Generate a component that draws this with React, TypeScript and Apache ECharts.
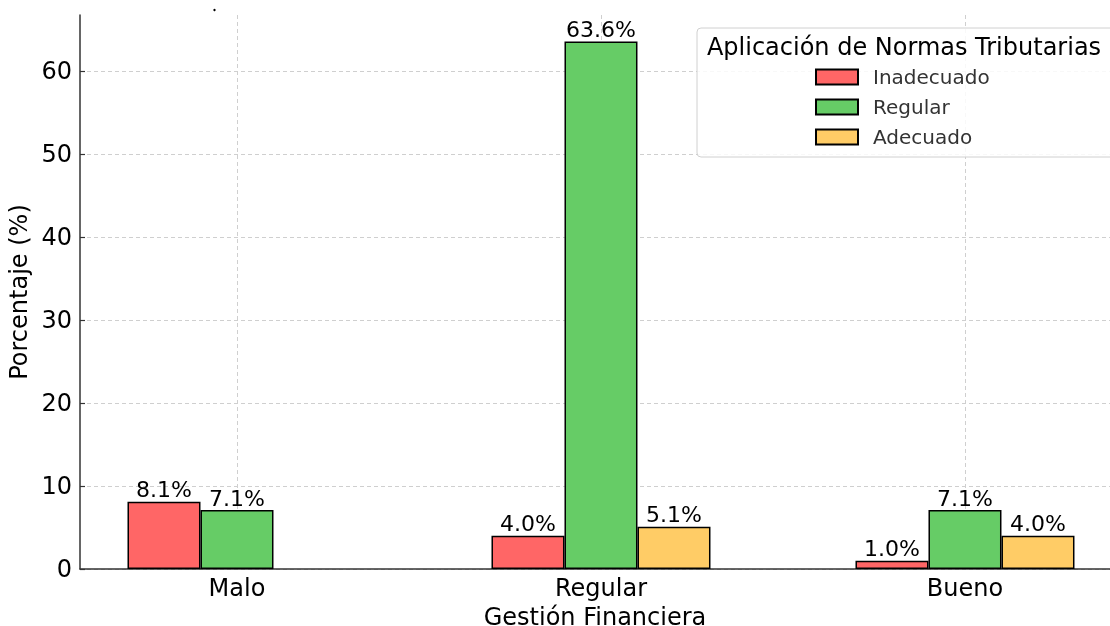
import React, { useEffect, useRef } from "react";
import * as echarts from "echarts";

const categories = ["Malo", "Regular", "Bueno"];
const seriesNames = ["Inadecuado", "Regular", "Adecuado"];
const inadecuado: (number | null)[] = [8.1, 4.0, 1.0];
const regular: (number | null)[] = [7.1, 63.6, 7.1];
const adecuado: (number | null)[] = [null, 5.1, 4.0];
const yTicks = [0, 10, 20, 30, 40, 50, 60];
const colors = ["#FF6666", "#66CC66", "#FFCC66"];

const FONT = "DejaVu Sans";

export default function App() {
  const ref = useRef<HTMLDivElement>(null);
  useEffect(() => {
    if (!ref.current) return;
    const chart = echarts.init(ref.current, undefined, { renderer: "svg" });
    const all = [inadecuado, regular, adecuado];
    const series = all.map((vals, si) => ({
      type: "bar" as const,
      name: seriesNames[si],
      barWidth: 73,
      barGap: "0%",
      data: vals
        .map((v, i) => (v == null ? null : [i, v]))
        .filter((d) => d !== null),
      itemStyle: { color: colors[si], borderColor: "#000", borderWidth: 1.5 },
      label: {
        show: true,
        position: "top" as const,
        distance: 1,
        fontFamily: FONT,
        fontSize: 22,
        color: "#000",
        formatter: (p: any) => `${Number(p.value[1]).toFixed(1)}%`,
      },
      z: 2,
    }));
    chart.setOption({
      animation: false,
      textStyle: { fontFamily: FONT },
      grid: {
        left: 80,
        right: 0,
        top: 15,
        bottom: 57,
        containLabel: false,
        outerBoundsMode: "none",
      },
      xAxis: {
        type: "value",
        min: -0.4313,
        max: 2.3984,
        name: "Gestión Financiera",
        nameLocation: "middle",
        nameGap: 31,
        nameTextStyle: { fontFamily: FONT, fontSize: 24, lineHeight: 24, color: "#000" },
        axisLine: { show: true, onZero: false, lineStyle: { color: "#333", width: 1.5 } },
        axisTick: {
          show: true,
          inside: true,
          length: 5,
          customValues: [0, 1, 2],
          lineStyle: { color: "#333", width: 1.2 },
        },
        axisLabel: {
          customValues: [0, 1, 2],
          margin: 7,
          fontFamily: FONT,
          fontSize: 24,
          color: "#000",
          formatter: (v: number) => categories[Math.round(v)] ?? "",
        },
        splitLine: { show: true, lineStyle: { color: "#cfcfcf", type: [4, 3], width: 1 } },
      },
      yAxis: {
        type: "value",
        min: 0,
        max: 66.78,
        name: "Porcentaje (%)",
        nameLocation: "middle",
        nameGap: 44,
        nameTextStyle: { fontFamily: FONT, fontSize: 24, color: "#000" },
        axisLine: { show: true, onZero: false, lineStyle: { color: "#333", width: 1.5 } },
        axisTick: {
          show: true,
          inside: true,
          length: 5,
          customValues: yTicks,
          lineStyle: { color: "#333", width: 1.2 },
        },
        axisLabel: {
          customValues: yTicks,
          margin: 8,
          fontFamily: FONT,
          fontSize: 24,
          color: "#000",
        },
        splitLine: { show: true, lineStyle: { color: "#cfcfcf", type: [4, 3], width: 1 } },
      },
      legend: {
        orient: "vertical",
        left: 810,
        top: 62,
        itemWidth: 42,
        itemHeight: 15,
        itemGap: 10,
        icon: "rect",
        data: seriesNames,
        textStyle: { fontFamily: FONT, fontSize: 20, color: "#333", padding: [0, 0, 0, 10] },
        z: 5,
      },
      graphic: [
        {
          type: "rect",
          z: 4,
          shape: { x: 697, y: 28, width: 425, height: 129, r: 4 },
          style: { fill: "rgba(255,255,255,0.85)", stroke: "#d0d0d0", lineWidth: 1 },
        },
        {
          type: "text",
          z: 5,
          x: 904,
          y: 47,
          style: {
            text: "Aplicación de Normas Tributarias",
            fontFamily: FONT,
            fontSize: 24,
            fill: "#000",
            align: "center",
            verticalAlign: "middle",
          },
        },
        {
          type: "circle",
          z: 5,
          shape: { cx: 214.5, cy: 10, r: 1.2 },
          style: { fill: "#000" },
        },
      ],
      series,
    });
    return () => chart.dispose();
  }, []);
  return (
    <div
      ref={ref}
      style={{ position: "fixed", left: 0, top: 0, width: 1110, height: 626 }}
    />
  );
}
